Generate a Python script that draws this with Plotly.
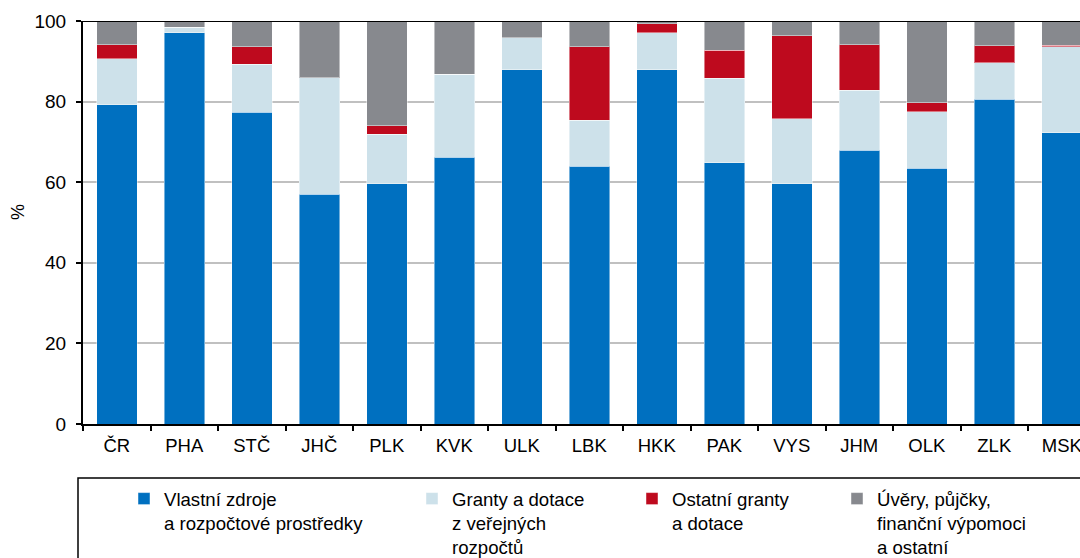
import plotly.graph_objects as go

regions = ["ČR", "PHA", "STČ", "JHČ", "PLK", "KVK", "ULK", "LBK", "HKK",
           "PAK", "VYS", "JHM", "OLK", "ZLK", "MSK"]
own_funds = [79.2, 97.1, 77.4, 57.0, 59.6, 66.2, 87.9, 64.0, 87.9, 64.8, 59.6, 67.9, 63.5, 80.6, 72.3]
public_grants = [11.4, 1.4, 11.9, 28.9, 12.3, 20.6, 8.0, 11.4, 9.2, 21.0, 16.2, 14.9, 14.0, 9.1, 21.3]
other_grants = [3.5, 0.0, 4.3, 0.0, 2.1, 0.0, 0.0, 18.2, 2.2, 7.0, 20.5, 11.3, 2.2, 4.2, 0.4]
loans_other = [5.9, 1.5, 6.4, 14.1, 26.0, 13.2, 4.1, 6.4, 0.7, 7.2, 3.7, 5.9, 20.3, 6.1, 6.0]

series = [
    ("Vlastní zdroje<br>a rozpočtové prostředky", own_funds, "#0070C0", "legend"),
    ("Granty a dotace<br>z veřejných<br>rozpočtů", public_grants, "#CDE1EA", "legend2"),
    ("Ostatní granty<br>a dotace", other_grants, "#BE0A1E", "legend3"),
    ("Úvěry, půjčky,<br>finanční výpomoci<br>a ostatní", loans_other, "#87898E", "legend4"),
]

W, H = 1080, 558
ML, MT, MB = 83, 21, 134
PW, PH = W - ML, H - MT - MB
FONT = "Arial, 'Liberation Sans', sans-serif"


def px_x(px):
    return (px - ML) / PW


def px_y(py):
    return (H - MB - py) / PH


fig = go.Figure()
for name, vals, color, lg in series:
    fig.add_trace(go.Bar(
        x=regions, y=vals, name=name, legend=lg,
        marker=dict(color=color, line=dict(color="rgba(255,255,255,0.45)", width=1)),
    ))

# legend text left positions (px) and top (px)
leg_x = [166, 454, 674, 879]
leg_top = 480
legend_common = dict(
    orientation="v", xref="paper", yref="paper",
    xanchor="left", yanchor="top", bgcolor="rgba(0,0,0,0)", borderwidth=0,
    font=dict(family=FONT, size=18.6, color="black"), valign="top",
    itemwidth=30, tracegroupgap=0,
)
legends = {}
for i, key in enumerate(["legend", "legend2", "legend3", "legend4"]):
    legends[key] = dict(legend_common, x=px_x(leg_x[i] - 42), y=px_y(leg_top))

fig.update_layout(
    width=W, height=H,
    barmode="stack", bargap=0.4,
    margin=dict(l=ML, r=0, t=MT, b=MB, pad=0, autoexpand=False),
    plot_bgcolor="white", paper_bgcolor="white",
    font=dict(family=FONT, size=18, color="black"),
    showlegend=True,
    **legends,
)

fig.update_xaxes(
    type="category", range=[-0.5, 14.27],
    showline=True, linecolor="black", linewidth=2,
    ticks="outside", tickson="boundaries", ticklen=5, tickcolor="black", tickwidth=1.5,
    showgrid=False, ticklabelstandoff=4,
    tickfont=dict(size=18.5), automargin=False,
)
fig.update_yaxes(
    range=[0, 100], tickvals=[0, 20, 40, 60, 80, 100],
    showline=True, linecolor="black", linewidth=2,
    ticks="outside", ticklen=5, tickcolor="black", tickwidth=1.5,
    showgrid=True, gridcolor="#C0C0C0", gridwidth=1.5, zeroline=False,
    ticklabelstandoff=6,
    tickfont=dict(size=19), automargin=False,
)

# y-axis unit label
fig.add_annotation(text="%", xref="paper", yref="paper", x=px_x(18), y=px_y(212),
                   xanchor="center", yanchor="middle", textangle=-90, showarrow=False,
                   font=dict(family=FONT, size=18, color="black"))

# top frame line and legend box
fig.add_shape(type="line", xref="paper", yref="y", x0=0, x1=1, y0=100, y1=100,
              line=dict(color="black", width=2), layer="above")
fig.add_shape(type="rect", xref="paper", yref="paper",
              x0=px_x(78), x1=px_x(1095), y0=px_y(580), y1=px_y(478),
              line=dict(color="black", width=1.5), fillcolor="rgba(0,0,0,0)")

fig.write_html("out.html", config={"displayModeBar": False})

# remove default body margin so the figure sits at the page origin
with open("out.html", "r", encoding="utf-8") as f:
    html = f.read()
html = html.replace("<head>", "<head><style>html,body{margin:0;padding:0;overflow:hidden;}</style>", 1)
with open("out.html", "w", encoding="utf-8") as f:
    f.write(html)
